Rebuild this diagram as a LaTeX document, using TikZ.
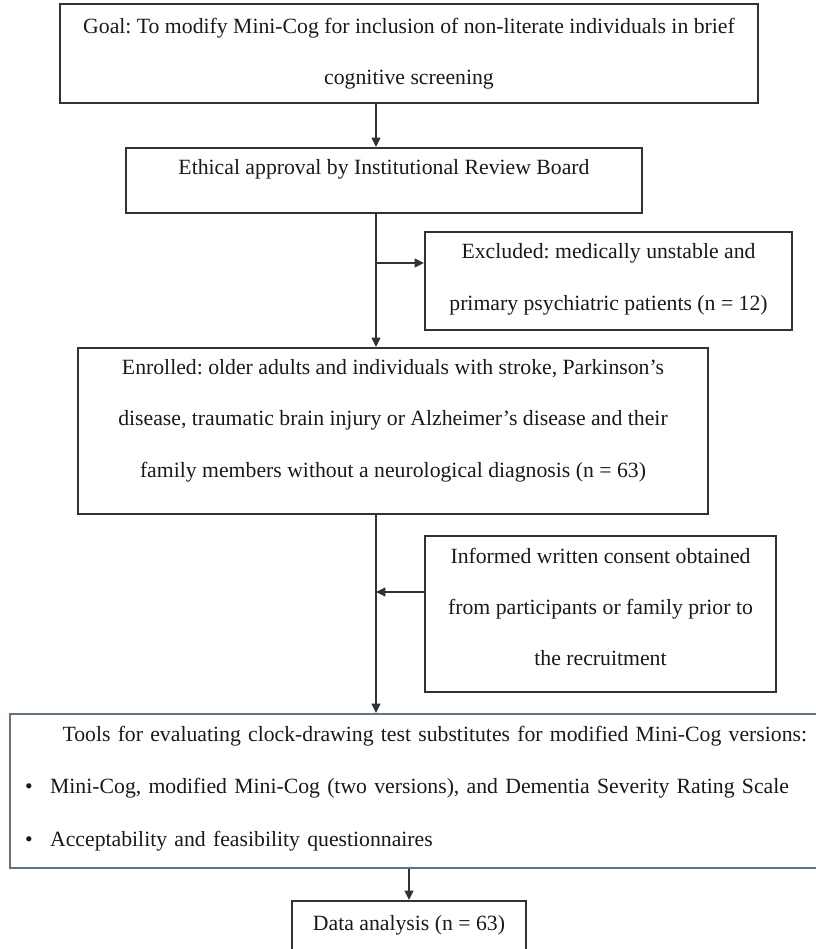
\documentclass[tikz,border=0pt]{standalone}
\usepackage{fontspec}
\setmainfont{Liberation Serif}
\usetikzlibrary{arrows.meta,positioning}
\definecolor{boxline}{RGB}{50,50,50}
\definecolor{toolline}{RGB}{95,115,145}
\newcommand{\lift}[1]{\rule[-#1]{0pt}{#1}}
\frenchspacing

\begin{document}
\begin{tikzpicture}[
    x=0.75pt, y=-0.75pt,
    box/.style={draw=boxline, line width=1.6pt, align=center, inner sep=0pt, text=black!90,
        font=\fontsize{16.3pt}{38.5pt}\selectfont},
    arrow/.style={-{Triangle[length=7pt,width=6.5pt]}, line width=1.3pt, draw=boxline}
]
\useasboundingbox (0,0) rectangle (816,949);
% MAIN COLUMN
\node[box, minimum width=523.5pt, minimum height=74.25pt] (goal) at (409,53.5)
    {Goal: To modify Mini-Cog for inclusion of non-literate individuals in brief\\cognitive screening};
\node[box, minimum width=387pt, minimum height=48.75pt] (ethic) at (384,180.5)
    {Ethical approval by Institutional Review Board\lift{20pt}};
\node[box, minimum width=472.5pt, minimum height=124.5pt] (enrol) at (393,431)
    {Enrolled: older adults and individuals with stroke, Parkinson’s\\
     disease, traumatic brain injury or Alzheimer’s disease and their\\
     family members without a neurological diagnosis (n = 63)\lift{19pt}};
\node[box, draw=toolline, line width=1.8pt, align=left, text width=593.25pt, inner xsep=11.25pt,
    minimum height=115.5pt, anchor=north west, font=\fontsize{16.3pt}{39.5pt}\selectfont] (tools) at (9,713)
    {\hspace*{28pt}Tools for evaluating clock-drawing test substitutes for modified Mini-Cog versions:\\
     \textbullet\hspace{13pt}Mini-Cog, modified Mini-Cog (two versions), and Dementia Severity Rating Scale\\
     \textbullet\hspace{13pt}Acceptability and feasibility questionnaires\lift{7.5pt}};
\node[box, minimum width=175.5pt, minimum height=44.25pt] (data) at (409,930.5)
    {Data analysis (n = 63)\lift{11pt}};
% SIDE BOXES
\node[box, minimum width=275.25pt, minimum height=73.5pt] (excl) at (608.5,281)
    {Excluded: medically unstable and\\primary psychiatric patients (n = 12)\lift{6pt}};
\node[box, minimum width=263.25pt, minimum height=117pt] (cons) at (600.5,614)
    {Informed written consent obtained\\from participants or family prior to\\the recruitment\lift{10.5pt}};
% CONNECTORS
\coordinate (trunk) at (376,0);
\coordinate (exclfork) at (376,263);
\coordinate (consjoin) at (376,592);
\draw[arrow] (goal.south -| trunk) -- (ethic.north -| trunk);
\draw[arrow] (ethic.south -| trunk) -- (enrol.north -| trunk);
\draw[arrow] (exclfork) -- (exclfork -| excl.west);
\draw[arrow] (enrol.south -| trunk) -- (tools.north -| trunk);
\draw[arrow] (consjoin -| cons.west) -- (consjoin);
\draw[arrow] (tools.south -| data.north) -- (data.north);
\end{tikzpicture}
\end{document}
